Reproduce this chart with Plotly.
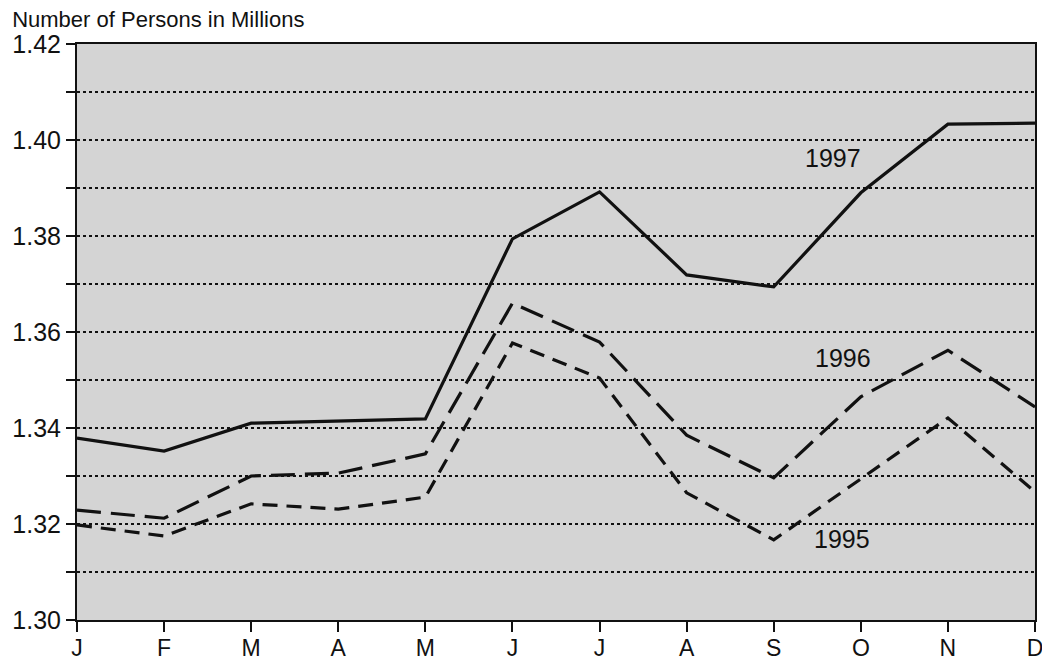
import plotly.graph_objects as go

months = ["J", "F", "M", "A", "M", "J", "J", "A", "S", "O", "N", "D"]
y1997 = [1.3379, 1.3352, 1.3410, 1.3415, 1.3419, 1.3794, 1.3892, 1.3719, 1.3694, 1.3890, 1.4033, 1.4035]
y1996 = [1.3229, 1.3212, 1.3300, 1.3306, 1.3346, 1.3660, 1.3579, 1.3385, 1.3296, 1.3465, 1.3562, 1.3444]
y1995 = [1.3198, 1.3175, 1.3242, 1.3231, 1.3256, 1.3577, 1.3504, 1.3265, 1.3167, 1.3295, 1.3421, 1.3267]
series_names = ["1997", "1996", "1995"]
y_ticks = [1.30, 1.31, 1.32, 1.33, 1.34, 1.35, 1.36, 1.37, 1.38, 1.39, 1.40, 1.41, 1.42]
y_tick_labels = ["1.30", "", "1.32", "", "1.34", "", "1.36", "", "1.38", "", "1.40", "", "1.42"]

x = list(range(len(months)))
font = "Liberation Sans, Arial, Helvetica, sans-serif"

fig = go.Figure()
styles = [("solid", y1997), ("24px,10px", y1996), ("15px,9px", y1995)]
for name, (dash, ys) in zip(series_names, styles):
    fig.add_trace(go.Scatter(x=x, y=ys, mode="lines", name=name,
                             line=dict(color="#111111", width=3.2, dash=dash),
                             showlegend=False, cliponaxis=False))

# Series labels
label_pos = [(8.68, 1.3962), (8.80, 1.3545), (8.78, 1.3168)]
for name, (lx, ly) in zip(series_names, label_pos):
    fig.add_annotation(x=lx, y=ly, text=name, showarrow=False,
                       font=dict(size=25, color="#111111", family=font))

# page body has an 8px margin, so the figure is sized/offset to compensate
fig.update_layout(
    width=1042, height=654,
    margin=dict(l=69, r=15, t=36, b=42),
    paper_bgcolor="white",
    plot_bgcolor="#d4d4d4",
    font=dict(family=font, color="#111111", size=22),
    title=dict(text="Number of Persons in Millions", xref="container", yref="container",
               x=0.004, xanchor="left", y=0.983, yanchor="middle",
               font=dict(size=22, family=font, color="#111111")),
)
fig.update_xaxes(range=[0, 11], tickvals=x, ticktext=months, showgrid=False,
                 zeroline=False, showline=True, linecolor="#111111", linewidth=2,
                 mirror=True, ticks="outside", ticklen=10, tickwidth=2,
                 tickcolor="#111111", tickfont=dict(size=23), ticklabelstandoff=-4,
                 automargin=False)
fig.update_yaxes(range=[1.30, 1.42], tickvals=y_ticks, ticktext=y_tick_labels,
                 showgrid=True, gridcolor="#111111", griddash="dot", gridwidth=1.6,
                 zeroline=False, showline=True, linecolor="#111111", linewidth=2,
                 mirror=True, ticks="outside", ticklen=9, tickwidth=2,
                 tickcolor="#111111", tickfont=dict(size=25), automargin=False)

fig.write_html("out.html")
